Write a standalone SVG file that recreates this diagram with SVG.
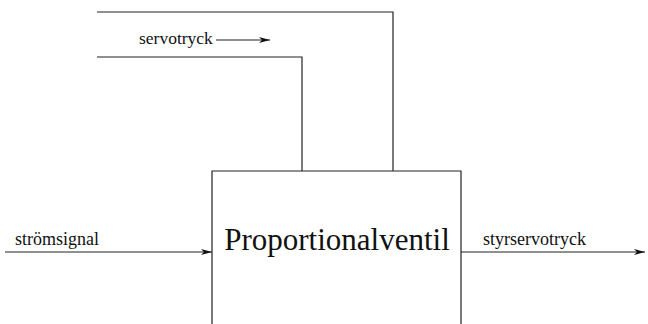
<svg xmlns="http://www.w3.org/2000/svg" width="648" height="324" viewBox="0 0 648 324">
<style>
.ln{fill:none;stroke:#222;stroke-width:1.2}
.t{font-family:"Liberation Serif","Times New Roman",serif;fill:#111}
</style>
<defs>
<marker id="ah" markerWidth="12" markerHeight="8" refX="11" refY="4" orient="auto" markerUnits="userSpaceOnUse">
<path d="M0,1 L11,4 L0,7 L3,4 Z" fill="#111"/>
</marker>
</defs>
<rect width="648" height="324" fill="#fff"/>
<g id="connectors">
<polyline class="ln" points="97,12 393,12 393,171"/>
<polyline class="ln" points="97,57 302,57 302,171"/>
<line class="ln" x1="216" y1="40" x2="270" y2="40" marker-end="url(#ah)"/>
<line class="ln" x1="5" y1="252" x2="212" y2="252" marker-end="url(#ah)"/>
<line class="ln" x1="461" y1="252" x2="645" y2="252" marker-end="url(#ah)"/>
</g>
<g id="proportionalventil">
<polyline class="ln" points="212,324 212,171 461,171 461,324"/>
<text class="t" x="337" y="250" font-size="31" text-anchor="middle">Proportionalventil</text>
</g>
<g id="labels">
<text class="t" x="139" y="44" font-size="17.5">servotryck</text>
<text class="t" x="15" y="245" font-size="18">strömsignal</text>
<text class="t" x="483" y="245" font-size="18">styrservotryck</text>
</g>
</svg>
